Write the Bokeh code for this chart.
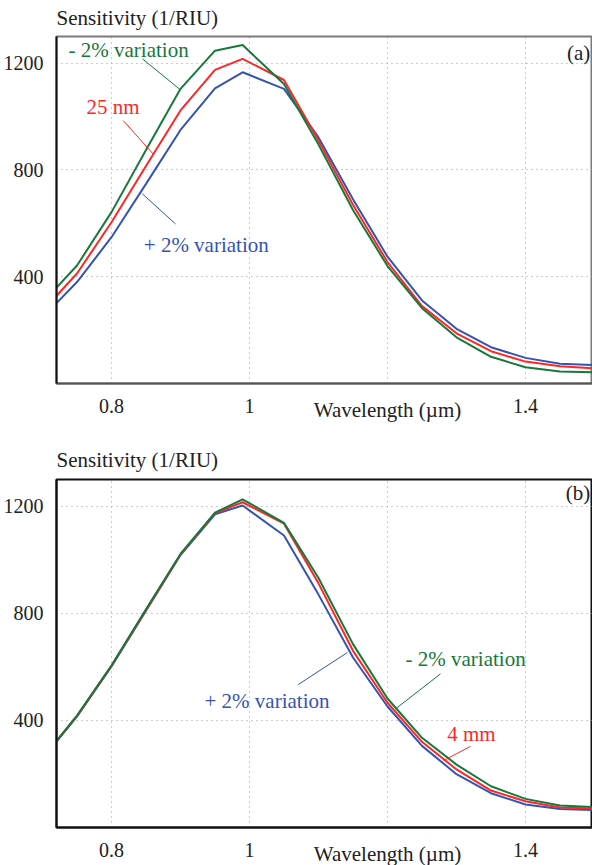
from bokeh.plotting import figure
from bokeh.models import FixedTicker, Label, Range1d, ColumnDataSource, Title
from bokeh.layouts import column
from bokeh.embed import file_html
from bokeh.resources import INLINE

# ---------------- data ----------------
wavelength = [0.72, 0.75, 0.8, 0.85, 0.9, 0.95, 0.99, 1.05, 1.1, 1.15, 1.2, 1.25, 1.3, 1.35, 1.4, 1.45, 1.5]

# panel (a): grating period 25 nm, +/- 2% variation
a_minus2 = [358, 442, 642, 875, 1104, 1247, 1268, 1122, 895, 650, 440, 282, 173, 100, 61, 45, 42]
a_nominal = [328, 412, 604, 815, 1023, 1175, 1216, 1137, 910, 670, 455, 290, 188, 121, 82, 65, 57]
a_plus2 = [300, 380, 548, 748, 950, 1106, 1166, 1104, 922, 690, 475, 311, 205, 136, 96, 74, 69]

# panel (b): 4 mm, +/- 2% variation
b_minus2 = [322, 418, 605, 815, 1022, 1176, 1226, 1138, 932, 685, 482, 335, 235, 154, 107, 82, 76]
b_nominal = [322, 416, 604, 812, 1020, 1174, 1215, 1135, 912, 660, 466, 320, 217, 138, 98, 75, 71]
b_plus2 = [320, 415, 602, 810, 1018, 1170, 1203, 1091, 870, 635, 452, 305, 199, 128, 86, 69, 65]

x_ticks = [0.8, 1.0, 1.4]
x_grid = [0.8, 1.0, 1.2, 1.4]
x_tick_labels = {0.8: "0.8", 1.0: "1", 1.4: "1.4"}
y_ticks = [400, 800, 1200]

y_title = "Sensitivity (1/RIU)"
x_title = "\u2003" * 6 + "Wavelength (\u00b5m)"

GREEN = "#16783a"
RED = "#ff2626"
BLUE = "#3553b0"
FONT = "Liberation Serif"
FS_TICK = "20px"
FS = "21px"

X0, X1 = 0.7203, 1.4971
Y0, Y1 = 0, 1300


def make_panel(top_border, bottom_border, frame_h, outline, bottom_axis_color, title_standoff):
    p = figure(frame_width=536, frame_height=frame_h,
               min_border_left=48, min_border_right=0,
               min_border_top=top_border, min_border_bottom=bottom_border,
               x_range=Range1d(X0, X1), y_range=Range1d(Y0, Y1),
               output_backend="svg", toolbar_location=None, tools="")
    p.title = Title(text=y_title, align="left", text_font=FONT, text_font_size=FS,
                    text_font_style="normal", text_color="#222222",
                    standoff=title_standoff, vertical_align="bottom")
    p.background_fill_color = "white"
    p.border_fill_color = "white"
    p.outline_line_color = outline
    p.outline_line_width = 2

    xa = p.xaxis[0]
    xa.ticker = FixedTicker(ticks=x_ticks)
    xa.major_label_overrides = x_tick_labels
    ya = p.yaxis[0]
    ya.ticker = FixedTicker(ticks=y_ticks)
    for ax in (xa, ya):
        ax.major_tick_line_color = None
        ax.minor_tick_line_color = None
        ax.major_tick_out = 0
        ax.major_tick_in = 0
        ax.minor_tick_out = 0
        ax.major_label_text_font = FONT
        ax.major_label_text_font_size = FS_TICK
        ax.major_label_text_color = "#222222"
        ax.axis_line_width = 2
    ya.axis_line_color = "#111111"
    xa.axis_line_color = bottom_axis_color
    xa.major_label_standoff = 15
    ya.major_label_standoff = 13

    xa.axis_label = x_title
    xa.axis_label_text_font = FONT
    xa.axis_label_text_font_size = FS
    xa.axis_label_text_font_style = "normal"
    xa.axis_label_text_color = "#222222"
    xa.axis_label_standoff = -18

    p.xgrid.ticker = FixedTicker(ticks=x_grid)
    p.ygrid.ticker = FixedTicker(ticks=y_ticks)
    for g in (p.xgrid, p.ygrid):
        g.grid_line_color = "#999999"
        g.grid_line_dash = "1 4"
        g.grid_line_width = 1
    return p


def text(p, x, y, s, color, align="left"):
    p.add_layout(Label(x=x, y=y, text=s, text_color=color, text_font=FONT,
                       text_font_size=FS, text_align=align,
                       text_baseline="middle"))


# ---------------- panel (a) ----------------
pa = make_panel(28, 47, 347, "#7a7a7a", "#555555", 14)
src_a = ColumnDataSource(dict(x=wavelength, m=a_minus2, n=a_nominal, p=a_plus2))
pa.line("x", "p", source=src_a, line_color=BLUE, line_width=2)
pa.line("x", "n", source=src_a, line_color=RED, line_width=2)
pa.line("x", "m", source=src_a, line_color=GREEN, line_width=2)

pa.line([0.845, 0.9], [1216, 1100], line_color=GREEN, line_width=1)
pa.line([0.817, 0.861], [985, 858], line_color=RED, line_width=1)
pa.line([0.8928, 0.8445], [598, 711], line_color=BLUE, line_width=1)

text(pa, 0.7377, 1251, "- 2% variation", GREEN)
text(pa, 0.7638, 1036, "25 nm", RED)
text(pa, 0.8468, 520, "+ 2% variation", BLUE)
text(pa, 1.494, 1240, "(a)", "#222222", "right")

# ---------------- panel (b) ----------------
pb = make_panel(49, 37, 348, "#111111", "#111111", 15)
src_b = ColumnDataSource(dict(x=wavelength, m=b_minus2, n=b_nominal, p=b_plus2))
pb.line("x", "p", source=src_b, line_color=BLUE, line_width=2)
pb.line("x", "n", source=src_b, line_color=RED, line_width=2)
pb.line("x", "m", source=src_b, line_color=GREEN, line_width=2)

pb.line([1.2768, 1.2116], [574, 443], line_color=GREEN, line_width=1)
pb.line([1.0706, 1.1415], [534, 653], line_color=BLUE, line_width=1)
pb.line([1.3203, 1.2812], [303, 250], line_color=RED, line_width=1)

text(pb, 1.2261, 629, "- 2% variation", GREEN)
text(pb, 0.9348, 472, "+ 2% variation", BLUE)
text(pb, 1.2865, 349, "4 mm", RED)
text(pb, 1.494, 1249, "(b)", "#222222", "right")

layout = column(pa, pb, spacing=0, styles={"margin-top": "-4px"})
open("out.html", "w").write(file_html(layout, INLINE))
